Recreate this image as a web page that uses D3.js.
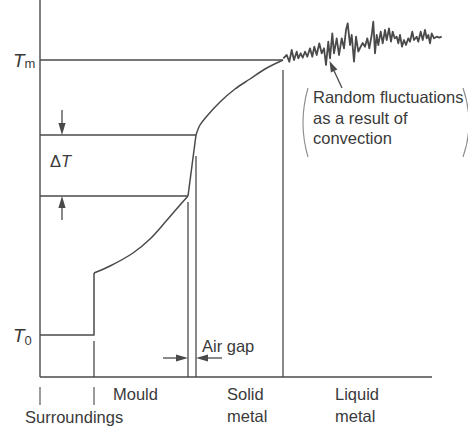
<!DOCTYPE html>
<html><head><meta charset="utf-8">
<script src="https://cdn.jsdelivr.net/npm/d3@7"></script>
<style>
html,body{margin:0;padding:0;background:#fff;}
svg{display:block;}
text{font-family:"Liberation Sans",Arial,Helvetica,sans-serif;fill:#3a3a3a;}
</style></head><body>
<svg id="c" width="468" height="434"></svg>
<script>
// ---- data (abstract distance / temperature units) ----
const axisExtent = {xMax: 392, yMax: 377};
const T0 = 42, Tm = 317, dTlow = 181, dTup = 242;
const boundaries = [0, 54, 148, 156, 243]; // surroundings|mould|gap|solid|liquid
const ambient = [[0, 42], [54, 42], [54, 104]];
const mouldProfile = [[54, 104], [70, 111], [93, 124], [110, 138], [127, 157], [140, 172], [148, 181]];
const gapDrop = [[148, 181], [156, 242]];
const solidProfile = [[156, 242], [160, 252], [167, 261], [180, 275], [195, 288], [210, 298], [225, 308], [243, 317]];
const liquidFluct = [
 [243.3,318.7],[246.7,322],[249.3,315.3],[251.7,327],[254,317],[256.7,325.3],[258.3,318.7],[260.7,323.7],
 [262.7,319.3],[265,325.3],[267.3,320.3],[270,328.7],[272.3,320.3],[274.3,330.3],[276.7,322],[279.3,333.7],
 [281.7,323.7],[284,328.7],[286,312],[288.3,335.3],[290,318.7],[292.3,343.7],[294,323.7],[296.7,338.7],
 [299,322],[301.7,338.7],[304,328.7],[306,347],[307.7,353.7],[310,332],[311.7,342],[314,315.3],[316,340.3],
 [318.3,325.3],[320,329],[322.7,334],[325,330.3],[327.3,338.7],[329.3,328.7],[331.7,342],[333.3,355.3],
 [335,323.7],[336.7,342],[338.3,332],[340.7,345.3],[342.7,333.7],[345,347],[346.7,337],[349,348.7],
 [351,335.3],[352.7,345.3],[354.7,338.7],[356.7,340.3],[358.3,333.7],[360,342],[362,330.3],[364,337],
 [366,332],[368.3,338.7],[370,335.3],[372.3,345.3],[374,337],[376.7,340.3],[378.3,335.3],[380.7,345.3],
 [382.7,337],[385,347],[386.7,338.7],[388.3,342],[390,333.7],[391.7,343.7],[394,338.7],[396.7,340.3],
 [399.3,339.3],[401.7,340.3]
];
const regionLabels = [
 {lines: ["Surroundings"], x: -15, y: -46},
 {lines: ["Mould"], x: 73, y: -23},
 {lines: ["Solid", "metal"], x: 187, y: -23},
 {lines: ["Liquid", "metal"], x: 295, y: -23}
];
const noteLines = ["Random fluctuations", "as a result of", "convection"];

// ---- scales ----
const x = d3.scaleLinear().domain([0, axisExtent.xMax]).range([40, 432]);
const y = d3.scaleLinear().domain([0, axisExtent.yMax]).range([377, 0]);
const svg = d3.select("#c");
const stroke = "#4a4a4a";
const line = d3.line().x(d => x(d[0])).y(d => y(d[1]));
const smooth = d3.line().x(d => x(d[0])).y(d => y(d[1])).curve(d3.curveCatmullRom.alpha(0.5));

function seg(x1, y1, x2, y2, w) {
  svg.append("line").attr("x1", x(x1)).attr("y1", y(y1)).attr("x2", x(x2)).attr("y2", y(y2))
    .attr("stroke", stroke).attr("stroke-width", w || 1.3);
}
function arrow(x1, y1, x2, y2, len, half) {
  const X1 = x(x1), Y1 = y(y1), X2 = x(x2), Y2 = y(y2);
  const a = Math.atan2(Y2 - Y1, X2 - X1);
  const bx = X2 - len * Math.cos(a), by = Y2 - len * Math.sin(a);
  svg.append("line").attr("x1", X1).attr("y1", Y1).attr("x2", bx).attr("y2", by)
    .attr("stroke", stroke).attr("stroke-width", 1.3);
  const px = -Math.sin(a) * half, py = Math.cos(a) * half;
  svg.append("path").attr("d", `M${X2},${Y2}L${bx + px},${by + py}L${bx - px},${by - py}Z`)
    .attr("fill", stroke);
}

// axes
seg(0, 0, 0, axisExtent.yMax, 1.4);
seg(0, 0, axisExtent.xMax, 0, 1.4);
// guide lines
seg(0, Tm, boundaries[4], Tm);
seg(0, dTup, boundaries[3], dTup);
seg(0, dTlow, boundaries[2], dTlow);
// boundary verticals
seg(boundaries[1], 36, boundaries[1], 0);
seg(boundaries[2], 175, boundaries[2], 0);
seg(boundaries[3], 221, boundaries[3], 0);
seg(boundaries[4], 307, boundaries[4], 0);
// below-axis ticks
seg(boundaries[0], -10, boundaries[0], -28, 1.1);
seg(boundaries[1], -10, boundaries[1], -28, 1.1);

// temperature profile
[[ambient, line], [mouldProfile, smooth], [gapDrop, line], [solidProfile, smooth]].forEach(([d, g]) =>
  svg.append("path").attr("d", g(d)).attr("fill", "none").attr("stroke", stroke)
    .attr("stroke-width", 1.5).attr("stroke-linejoin", "round"));
svg.append("path").attr("d", line(liquidFluct)).attr("fill", "none").attr("stroke", stroke)
  .attr("stroke-width", 1.8).attr("stroke-linejoin", "round");

// delta T arrows
arrow(22, 267, 22, dTup, 12, 3.6);
arrow(22, 157, 22, dTlow, 12, 3.6);
// air gap arrows
arrow(123, 19, boundaries[2], 19, 12, 3.6);
arrow(182, 19, boundaries[3], 19, 12, 3.6);
// pointer to fluctuations
arrow(302, 289, 289.5, 316, 11, 3.6);

// brackets around note
svg.append("path").attr("d", `M${x(268)},${y(289)} Q${x(258)},${y(254)} ${x(268)},${y(220)}`)
  .attr("fill", "none").attr("stroke", "#8a8a8a").attr("stroke-width", 1.1);
svg.append("path").attr("d", `M${x(423)},${y(289)} Q${x(435)},${y(254)} ${x(423)},${y(220)}`)
  .attr("fill", "none").attr("stroke", "#8a8a8a").attr("stroke-width", 1.1);

// labels
const fs = 16.5;
function label(t, xv, yv, size, anchor) {
  return svg.append("text").attr("x", x(xv)).attr("y", y(yv)).attr("font-size", size || fs)
    .attr("text-anchor", anchor || "start").text(t);
}
const tm = svg.append("text").attr("x", x(-27)).attr("y", y(Tm - 7)).attr("font-size", 19);
tm.append("tspan").attr("font-style", "italic").text("T");
tm.append("tspan").attr("font-size", 13).attr("dy", 1).text("m");
const t0 = svg.append("text").attr("x", x(-27)).attr("y", y(T0 - 7)).attr("font-size", 19);
t0.append("tspan").attr("font-style", "italic").text("T");
t0.append("tspan").attr("font-size", 13).attr("dy", 3).text("0");
const dt = svg.append("text").attr("x", x(10)).attr("y", y(210)).attr("font-size", 16.5);
dt.append("tspan").text("\u0394");
dt.append("tspan").attr("font-style", "italic").text("T");

label("Air gap", 162, 25);
regionLabels.forEach(r => r.lines.forEach((t, i) => label(t, r.x, r.y - i * 22)));
noteLines.forEach((t, i) => label(t, 273, 274 - i * 20.5));
</script>
</body></html>
